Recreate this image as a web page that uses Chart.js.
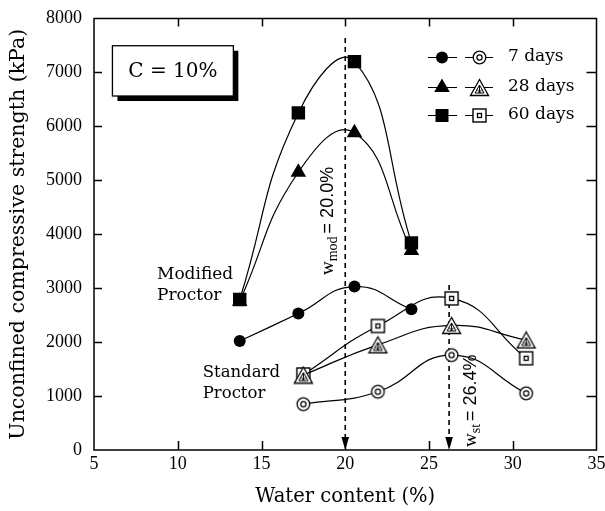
<!DOCTYPE html>
<html><head><meta charset="utf-8">
<script src="https://cdn.jsdelivr.net/npm/chart.js@4.4.0/dist/chart.umd.min.js"></script>
<style>html,body{margin:0;padding:0;background:#fff;}#wrap{width:605px;height:511px;}</style>
</head><body><div id="wrap"><canvas id="c" width="605" height="511"></canvas></div>
<script>
// ---- data ----
const xTickValues = [5, 10, 15, 20, 25, 30, 35];
const yTickValues = [0, 1000, 2000, 3000, 4000, 5000, 6000, 7000, 8000];
const modifiedWater = [13.7, 17.2, 20.55, 23.95];
const standardWater = [17.5, 21.95, 26.35, 30.8];
const modified7 = [2020, 2530, 3030, 2610];
const modified28 = [2760, 5150, 5880, 3700];
const modified60 = [2790, 6250, 7200, 3840];
const standard7 = [850, 1080, 1760, 1050];
const standard28 = [1390, 1950, 2310, 2040];
const standard60 = [1400, 2300, 2810, 1700];
const curingLabels = ['7 days', '28 days', '60 days'];
const optimumWater = [20.0, 26.2];
const optimumTop = [7640, 3060];

// ---- marker images ----
function mk(w, h, draw) { const c = document.createElement('canvas'); c.width = w; c.height = h; const g = c.getContext('2d'); draw(g); return c; }
const openCircle = mk(17, 17, g => {
  g.strokeStyle = '#000'; g.fillStyle = '#fff'; g.lineWidth = 1.3;
  g.beginPath(); g.arc(8.5, 8.5, 6.3, 0, Math.PI * 2); g.fill(); g.stroke();
  g.lineWidth = 1.2; g.beginPath(); g.arc(8.5, 8.5, 2.6, 0, Math.PI * 2); g.stroke();
});
const openSquare = mk(17, 17, g => {
  g.strokeStyle = '#000'; g.fillStyle = '#fff'; g.lineWidth = 1.4;
  g.fillRect(2, 2, 13, 13); g.strokeRect(2, 2, 13, 13);
  g.lineWidth = 1.3; g.strokeRect(6.5, 6.5, 4, 4);
});
const openTriangle = mk(21, 19, g => {
  g.strokeStyle = '#000'; g.fillStyle = '#fff'; g.lineWidth = 1.3;
  g.beginPath(); g.moveTo(10.5, 1.5); g.lineTo(1.5, 17.5); g.lineTo(19.5, 17.5); g.closePath(); g.fill(); g.stroke();
  g.lineWidth = 1;
  g.beginPath(); g.moveTo(10.5, 7); g.lineTo(6, 15); g.lineTo(15, 15); g.closePath(); g.stroke();
  g.beginPath(); g.moveTo(10.5, 7); g.lineTo(10.5, 15); g.moveTo(8, 11.5); g.lineTo(11.5, 15); g.moveTo(13, 11.5); g.lineTo(9.5, 15); g.stroke();
});

function pts(xs, ys) { return xs.map((x, i) => ({ x: x, y: ys[i] })); }
function ds(label, xs, ys, style, radius) {
  return { label: label, data: pts(xs, ys), borderColor: '#000', backgroundColor: '#000', borderWidth: 1.2,
    pointStyle: style, pointRadius: radius, pointBorderWidth: 0, pointBackgroundColor: '#000', pointBorderColor: '#000',
    tension: 0.47, fill: false, showLine: true };
}
const datasets = [
  ds('Modified 7 days', modifiedWater, modified7, 'circle', 6),
  ds('Modified 28 days', modifiedWater, modified28, 'triangle', 9),
  ds('Modified 60 days', modifiedWater, modified60, 'rect', 9.5),
  ds('Standard 7 days', standardWater, standard7, openCircle, 7),
  ds('Standard 28 days', standardWater, standard28, openTriangle, 8),
  ds('Standard 60 days', standardWater, standard60, openSquare, 7)
];

const SERIF = '"DejaVu Serif", serif';
const TIMES = '"Liberation Serif", "Times New Roman", serif';
const SANS = '"Liberation Sans", Arial, sans-serif';

function drawFilled(ctx, style, x, y) {
  ctx.fillStyle = '#000'; ctx.beginPath();
  if (style === 'circle') { ctx.arc(x, y, 6, 0, Math.PI * 2); }
  else if (style === 'triangle') { const r = 9; ctx.moveTo(x, y - r); ctx.lineTo(x - r * 0.866, y + r / 2); ctx.lineTo(x + r * 0.866, y + r / 2); ctx.closePath(); }
  else { ctx.rect(x - 6.5, y - 6.5, 13, 13); }
  ctx.fill();
}

const decor = {
  id: 'decor',
  beforeDatasetsDraw(chart) {
    const { ctx, scales: { x, y }, chartArea: a } = chart;
    ctx.save();
    ctx.strokeStyle = '#000'; ctx.fillStyle = '#000'; ctx.lineWidth = 1.6; ctx.setLineDash([5, 4]);
    optimumWater.forEach((w, i) => {
      const px = x.getPixelForValue(w);
      ctx.beginPath(); ctx.moveTo(px, y.getPixelForValue(optimumTop[i])); ctx.lineTo(px, a.bottom - 10); ctx.stroke();
    });
    ctx.setLineDash([]);
    optimumWater.forEach(w => {
      const px = x.getPixelForValue(w);
      ctx.beginPath(); ctx.moveTo(px - 3.8, a.bottom - 13); ctx.lineTo(px + 3.8, a.bottom - 13); ctx.lineTo(px, a.bottom); ctx.closePath(); ctx.fill();
    });
    const labels = [
      { w: optimumWater[0], sub: 'mod', val: '= 20.0%', bx: -12, by: 275 },
      { w: optimumWater[1], sub: 'st', val: '= 26.4%', bx: 27, by: 447 }
    ];
    labels.forEach(l => {
      const px = x.getPixelForValue(l.w) + l.bx;
      ctx.save(); ctx.translate(px, l.by); ctx.rotate(-Math.PI / 2);
      ctx.textBaseline = 'alphabetic'; ctx.textAlign = 'left'; ctx.fillStyle = '#000';
      let cx = 0;
      ctx.font = '19px ' + TIMES; ctx.fillText('w', cx, 0); cx += ctx.measureText('w').width;
      ctx.font = '14px ' + TIMES; ctx.fillText(l.sub, cx, 4); cx += ctx.measureText(l.sub).width + 3;
      ctx.font = '18px ' + SANS; ctx.fillText(l.val, cx, 0);
      ctx.restore();
    });
    ctx.restore();
  },
  afterDraw(chart) {
    const { ctx, scales: { x, y }, chartArea: a } = chart;
    ctx.save();
    ctx.strokeStyle = '#000'; ctx.lineWidth = 1.5;
    ctx.strokeRect(a.left, a.top, a.right - a.left, a.bottom - a.top);
    ctx.beginPath();
    xTickValues.slice(1, -1).forEach(v => { const p = Math.round(x.getPixelForValue(v)) + 0.5; ctx.moveTo(p, a.bottom); ctx.lineTo(p, a.bottom - 9); ctx.moveTo(p, a.top); ctx.lineTo(p, a.top + 8); });
    yTickValues.slice(1, -1).forEach(v => { const p = Math.round(y.getPixelForValue(v)) + 0.5; ctx.moveTo(a.left, p); ctx.lineTo(a.left + 8, p); ctx.moveTo(a.right, p); ctx.lineTo(a.right - 10, p); });
    ctx.stroke();

    const bx1 = x.getPixelForValue(6.1), bx2 = x.getPixelForValue(13.32);
    const by1 = y.getPixelForValue(7495), by2 = y.getPixelForValue(6563);
    ctx.fillStyle = '#000'; ctx.fillRect(bx1 + 5, by1 + 5, bx2 - bx1, by2 - by1);
    ctx.fillStyle = '#fff'; ctx.fillRect(bx1, by1, bx2 - bx1, by2 - by1);
    ctx.lineWidth = 1.3; ctx.strokeRect(bx1, by1, bx2 - bx1, by2 - by1);
    ctx.fillStyle = '#000'; ctx.font = '20px ' + SERIF; ctx.textAlign = 'center'; ctx.textBaseline = 'middle';
    ctx.fillText('C = 10%', (bx1 + bx2) / 2, (by1 + by2) / 2 + 1);

    ctx.textAlign = 'left'; ctx.textBaseline = 'alphabetic'; ctx.font = '17px ' + SERIF;
    const mx = x.getPixelForValue(8.76), my = y.getPixelForValue(3165);
    ctx.fillText('Modified', mx, my); ctx.fillText('Proctor', mx, my + 21);
    ctx.font = '16.5px ' + SERIF;
    const sx = x.getPixelForValue(11.49), sy = y.getPixelForValue(1350);
    ctx.fillText('Standard', sx, sy); ctx.fillText('Proctor', sx, sy + 21);

    const filledStyles = ['circle', 'triangle', 'rect'];
    const openImgs = [openCircle, openTriangle, openSquare];
    const rowVals = [7286, 6730, 6211];
    ctx.lineWidth = 1.2; ctx.strokeStyle = '#000';
    rowVals.forEach((rv, i) => {
      const ry = Math.round(y.getPixelForValue(rv)) + 0.5;
      ctx.beginPath(); ctx.moveTo(428, ry); ctx.lineTo(457, ry); ctx.moveTo(465, ry); ctx.lineTo(493, ry); ctx.stroke();
      drawFilled(ctx, filledStyles[i], 442, ry);
      const im = openImgs[i]; ctx.drawImage(im, Math.round(479 - im.width / 2), Math.round(ry - im.height / 2));
      ctx.fillStyle = '#000'; ctx.font = '17px ' + SERIF; ctx.textBaseline = 'middle'; ctx.textAlign = 'left';
      ctx.fillText(curingLabels[i], 508, ry - 1);
    });
    ctx.restore();
  }
};

new Chart(document.getElementById('c'), {
  type: 'line',
  data: { datasets: datasets },
  options: {
    responsive: false, animation: false, devicePixelRatio: 1,
    layout: { autoPadding: false, padding: { top: 18.5, right: 8.5, left: 0, bottom: 0 } },
    plugins: { legend: { display: false }, tooltip: { enabled: false } },
    scales: {
      x: {
        type: 'linear', min: 5, max: 35,
        afterBuildTicks: s => { s.ticks = xTickValues.map(v => ({ value: v })); },
        afterFit: s => { s.height = 61; s.paddingLeft = 0; s.paddingRight = 0; },
        grid: { display: false, drawTicks: false }, border: { display: false },
        ticks: { color: '#000', font: { family: TIMES, size: 18 }, padding: 3, maxRotation: 0, callback: v => String(v) },
        title: { display: true, text: 'Water content (%)', color: '#000', font: { family: SERIF, size: 19.5, weight: 'normal' }, padding: { top: 0, bottom: 2 } }
      },
      y: {
        type: 'linear', min: 0, max: 8000,
        afterBuildTicks: s => { s.ticks = yTickValues.map(v => ({ value: v })); },
        afterFit: s => { s.width = 94; s.paddingTop = 0; s.paddingBottom = 0; },
        grid: { display: false, drawTicks: false }, border: { display: false },
        ticks: { color: '#000', font: { family: TIMES, size: 18 }, padding: 12, callback: v => String(v) },
        title: { display: true, text: 'Unconfined compressive strength (kPa)', color: '#000', font: { family: SERIF, size: 20.5, weight: 'normal' }, padding: { top: 6, bottom: 0 } }
      }
    }
  },
  plugins: [decor]
});
</script></body></html>
